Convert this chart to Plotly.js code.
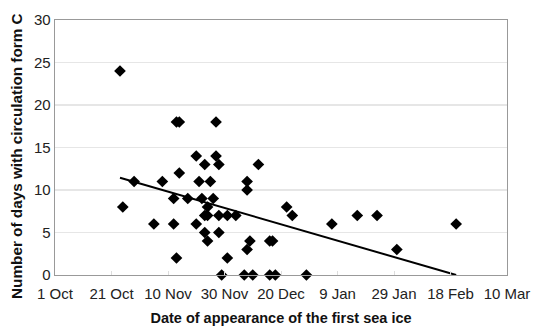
<!DOCTYPE html>
<html>
<head>
<meta charset="utf-8">
<script src="https://cdn.plot.ly/plotly-3.0.1.min.js"></script>
<style>html,body{margin:0;padding:0;background:#fff;}#chart{width:535px;height:326px;}</style>
</head>
<body>
<div id="chart"></div>
<script>
// Date of first sea ice appearance (season 2001/02 calendar used for positioning)
const iceDates = [
  "2001-10-24","2001-11-13","2001-11-14","2001-11-27",
  "2001-11-20","2001-11-27",
  "2001-11-23","2001-11-28","2001-12-12",
  "2001-11-14",
  "2001-10-29","2001-11-08","2001-11-21","2001-11-25","2001-12-08",
  "2001-12-08",
  "2001-11-12","2001-11-17","2001-11-22","2001-11-26",
  "2001-10-25","2001-11-24","2001-12-22",
  "2001-11-23","2001-11-24","2001-11-28","2001-12-01","2001-12-04","2001-12-24","2002-01-16","2002-01-23",
  "2001-11-05","2001-11-12","2001-11-20","2002-01-07","2002-02-20",
  "2001-11-23","2001-11-28",
  "2001-11-24","2001-12-09","2001-12-16","2001-12-17",
  "2001-12-08","2002-01-30",
  "2001-11-13","2001-12-01",
  "2001-11-29","2001-12-07","2001-12-10","2001-12-16","2001-12-18","2001-12-29"
];
const daysFormC = [
  24,18,18,18,
  14,14,
  13,13,13,
  12,
  11,11,11,11,11,
  10,
  9,9,9,9,
  8,8,8,
  7,7,7,7,7,7,7,7,
  6,6,6,6,6,
  5,5,
  4,4,4,4,
  3,3,
  2,2,
  0,0,0,0,0,0
];
// Linear trend line (end points)
const trendDates = ["2001-10-24","2002-02-20"];
const trendValues = [11.45, 0.0];

const xTickFirst = "2001-10-01";
const xRange = ["2001-10-01","2002-03-10"];
const yRange = [0, 30];
const yTitle = "Number of days with circulation form C";
const xTitle = "Date of appearance of the first sea ice";

const traces = [
  {
    x: iceDates, y: daysFormC, type: "scatter", mode: "markers",
    marker: {symbol: "diamond", size: 9, color: "#000"},
    hoverinfo: "x+y", showlegend: false, cliponaxis: false
  },
  {
    x: trendDates, y: trendValues, type: "scatter", mode: "lines",
    line: {color: "#000", width: 2}, showlegend: false, hoverinfo: "skip"
  }
];

const layout = {
  width: 535, height: 326,
  margin: {l: 55, r: 28, t: 20, b: 51},
  paper_bgcolor: "#fff", plot_bgcolor: "#fff",
  font: {family: "Liberation Sans, Arial, sans-serif", color: "#222"},
  showlegend: false,
  xaxis: {
    type: "date", range: xRange,
    tick0: xTickFirst, dtick: 20 * 86400000, tickformat: "%-d %b",
    tickfont: {size: 15, color: "#222"},
    ticks: "inside", ticklen: 4, tickcolor: "#ddd",
    ticklabelstandoff: 5,
    showgrid: false, zeroline: false,
    showline: true, linecolor: "#999", linewidth: 1.3, mirror: true,
    title: {text: "<b>" + xTitle + "</b>", font: {size: 14.5, color: "#111"}, standoff: 13}
  },
  yaxis: {
    range: yRange, dtick: 5, tick0: 0,
    tickfont: {size: 15, color: "#222"},
    ticks: "", showgrid: true, gridcolor: "#e6e6e6", gridwidth: 1.2,
    zeroline: false,
    showline: true, linecolor: "#999", linewidth: 1.3, mirror: true
  },
  annotations: [{
    text: "<b>" + yTitle + "</b>", textangle: -90,
    xref: "paper", yref: "paper", x: -0.084, y: 0.467,
    xanchor: "center", yanchor: "middle", showarrow: false,
    font: {size: 15.3, color: "#111"}
  }]
};

Plotly.newPlot("chart", traces, layout, {staticPlot: true, displayModeBar: false});
</script>
</body>
</html>
